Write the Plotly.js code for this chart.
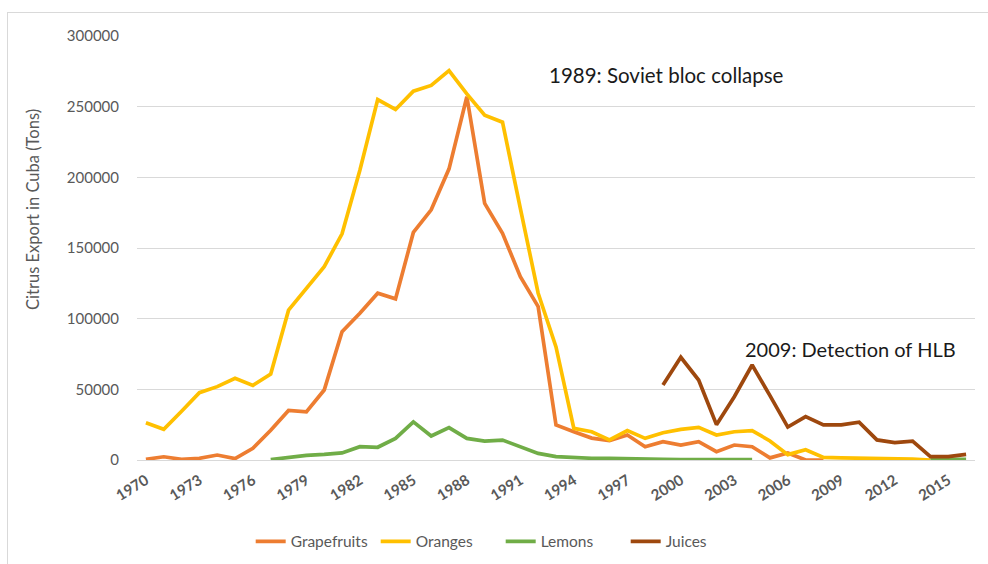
<!DOCTYPE html>
<html>
<head>
<meta charset="utf-8">
<script src="https://cdn.plot.ly/plotly-3.0.1.min.js"></script>
<style>
  html, body { margin: 0; padding: 0; background: #ffffff; }
  #frame { position: absolute; left: 7px; top: 12px; width: 992px; height: 560px; border: 1px solid #d9d9d9; box-sizing: border-box; }
  #chart { position: absolute; left: 0; top: 0; width: 988px; height: 564px; }
</style>
</head>
<body>
<div id="frame"></div>
<div id="chart"></div>
<script>
const years = [1970,1971,1972,1973,1974,1975,1976,1977,1978,1979,
               1980,1981,1982,1983,1984,1985,1986,1987,1988,1989,
               1990,1991,1992,1993,1994,1995,1996,1997,1998,1999,
               2000,2001,2002,2003,2004,2005,2006,2007,2008,2009,
               2010,2011,2012,2013,2014,2015,2016];

const tickYears = [1970,1973,1976,1979,1982,1985,1988,1991,1994,1997,2000,2003,2006,2009,2012,2015];

const grapefruits = [500,2300,500,1200,3500,1000,8300,21000,35000,34000,
                     49500,90800,103800,118000,114000,161000,177000,206000,257000,181600,
                     160400,129700,108500,24800,20000,15500,13700,17700,9400,13000,
                     10600,13000,5900,10600,9400,1500,5000,0,0,null,
                     null,null,null,null,null,null,null];

const oranges = [26400,21700,34500,47600,51900,57800,52800,60800,106000,121500,
                 136800,160000,205000,255000,248000,261000,265000,275500,259000,244000,
                 239000,178000,118000,80000,22400,20000,14200,20800,15300,19300,
                 21700,23100,17700,20000,20800,13500,3800,7300,1800,1500,
                 1400,1200,900,600,0,null,null];

const lemons = [null,null,null,null,null,null,null,300,2000,3300,
                4000,5000,9400,9000,15300,27000,17000,22900,15300,13400,
                14100,9400,4700,2400,1500,1200,1100,1100,1000,500,
                300,300,300,300,300,null,null,null,null,null,
                null,null,null,null,500,500,500];

const juices = [null,null,null,null,null,null,null,null,null,null,
                null,null,null,null,null,null,null,null,null,null,
                null,null,null,null,null,null,null,null,null,53000,
                72700,56600,25000,44800,67200,45500,23300,30700,24800,24800,
                26800,14200,12300,13400,2400,2400,4000];

const seriesNames = ['Grapefruits','Oranges','Lemons','Juices'];
const seriesColors = ['#ED7D31','#FFC000','#70AD47','#9E480E'];
const seriesData = [grapefruits, oranges, lemons, juices];

const FONT = 'Lato, "Open Sans", "Liberation Sans", sans-serif';

const traces = seriesData.map((vals, i) => ({
  x: years,
  y: vals,
  type: 'scatter',
  mode: 'lines',
  name: seriesNames[i],
  line: { color: seriesColors[i], width: 3.7 },
  connectgaps: false,
  hoverinfo: 'skip'
}));

const layout = {
  width: 988,
  height: 564,
  paper_bgcolor: 'rgba(0,0,0,0)',
  plot_bgcolor: 'rgba(0,0,0,0)',
  margin: { l: 137, r: 13, t: 36, b: 104, autoexpand: false },
  font: { family: FONT, color: '#595959' },
  showlegend: true,
  legend: {
    orientation: 'h',
    x: 0.434, xanchor: 'center',
    y: -0.193, yanchor: 'middle',
    font: { size: 15.5, color: '#595959', family: FONT },
    traceorder: 'normal',
    entrywidth: 80
  },
  xaxis: {
    type: 'linear',
    range: [1969.5, 2016.5],
    tickmode: 'array',
    tickvals: tickYears,
    ticktext: tickYears.map(String),
    tickangle: -32,
    tickfont: { size: 15, color: '#595959', family: FONT, weight: 'bold' },
    showgrid: false,
    zeroline: false,
    showline: false,
    ticks: '',
    ticklabelstandoff: 8,
    automargin: false,
    fixedrange: true
  },
  yaxis: {
    range: [0, 300000],
    tickmode: 'array',
    tickvals: [0,50000,100000,150000,200000,250000,300000],
    ticktext: ['0','50000','100000','150000','200000','250000','300000'],
    tickfont: { size: 15, color: '#595959', family: FONT },
    showgrid: true,
    gridcolor: '#d9d9d9',
    gridwidth: 1,
    zeroline: true,
    zerolinecolor: '#d9d9d9',
    zerolinewidth: 1,
    showline: false,
    ticks: '',
    ticklabelstandoff: 17,
    automargin: false,
    fixedrange: true
  },
  annotations: [
    {
      text: 'Citrus Export in Cuba (Tons)',
      xref: 'paper', yref: 'paper',
      x: -0.124, y: 0.59,
      xanchor: 'center', yanchor: 'middle',
      textangle: -90,
      showarrow: false,
      font: { size: 16.5, color: '#595959', family: FONT }
    },
    {
      text: '1989: Soviet bloc collapse',
      xref: 'paper', yref: 'paper',
      x: 0.489, y: 0.908,
      xanchor: 'left', yanchor: 'middle',
      showarrow: false,
      font: { size: 20.5, color: '#1a1a1a', family: FONT }
    },
    {
      text: '2009: Detection of HLB',
      xref: 'paper', yref: 'paper',
      x: 0.723, y: 0.262,
      xanchor: 'left', yanchor: 'middle',
      showarrow: false,
      font: { size: 20, color: '#1a1a1a', family: FONT }
    }
  ]
};

Plotly.newPlot('chart', traces, layout, { staticPlot: true, displayModeBar: false });
</script>
</body>
</html>
